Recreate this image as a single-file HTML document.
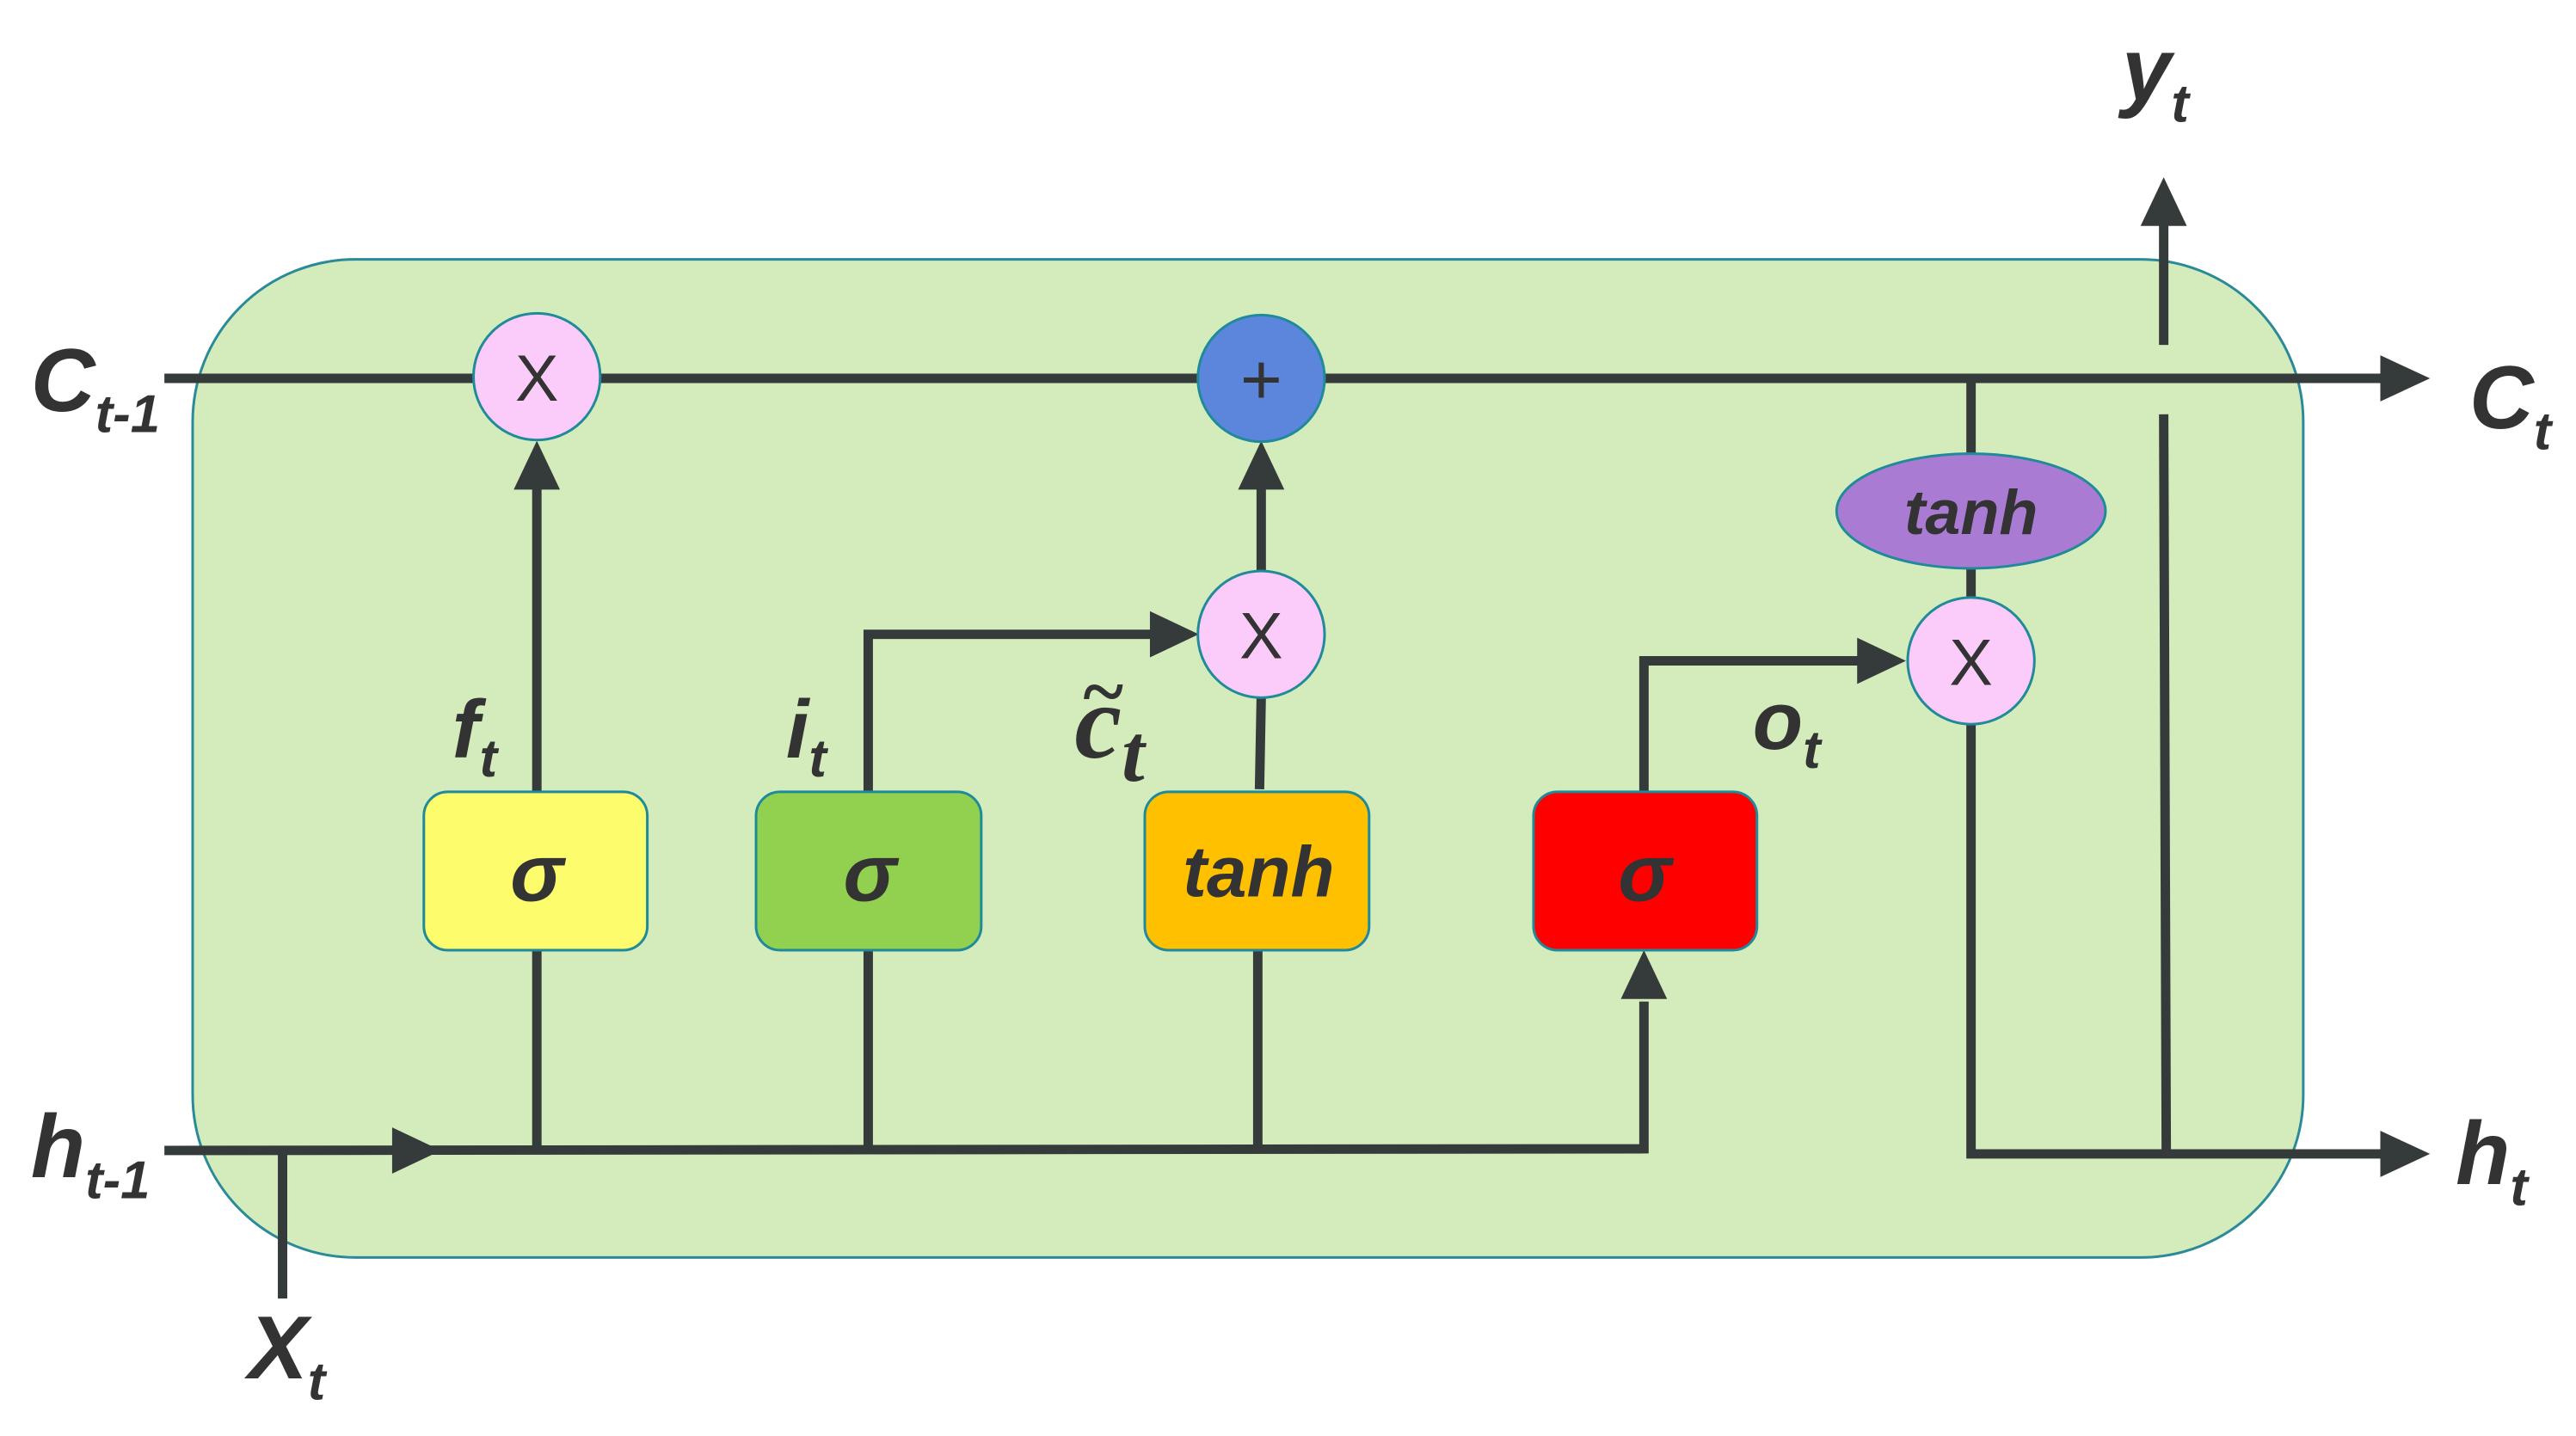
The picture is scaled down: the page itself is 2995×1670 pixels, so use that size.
<!DOCTYPE html>
<html><head><meta charset="utf-8"><style>html,body{margin:0;padding:0;background:#fff}svg{display:block}
text{font-family:"Liberation Sans",sans-serif;font-weight:bold;font-style:italic;fill:#333}</style></head>
<body>
<svg width="2995" height="1670" viewBox="0 0 2995 1670" xmlns="http://www.w3.org/2000/svg">
<g transform="scale(0.9955)">
<rect x="225" y="303" width="2465" height="1166" rx="190" ry="190" fill="#d4ebbb" stroke="#2a8a9a" stroke-width="3"/>
<g stroke="#353a3a" stroke-width="11" fill="none" stroke-linecap="butt">
<line x1="192" y1="442" x2="2785" y2="442"/>
<polyline points="192,1344 1920,1342 1920,1170"/>
<line x1="330" y1="1344" x2="330" y2="1517"/>
<line x1="627" y1="1344" x2="627" y2="1110"/>
<line x1="627" y1="927" x2="627" y2="570"/>
<line x1="1014" y1="1344" x2="1014" y2="1110"/>
<polyline points="1014,927 1014,741 1345,741"/>
<line x1="1469" y1="1344" x2="1469" y2="1105"/>
<line x1="1471" y1="922" x2="1473" y2="814"/>
<line x1="1473" y1="668" x2="1473" y2="570"/>
<polyline points="1920,927 1920,772 2172,772"/>
<line x1="2302" y1="699" x2="2302" y2="664"/>
<line x1="2302" y1="530" x2="2302" y2="442"/>
<polyline points="2302,845 2302,1348 2785,1348"/>
<line x1="2530" y1="1348" x2="2527" y2="484"/>
<line x1="2527" y1="403" x2="2527" y2="260"/>
</g>
<g fill="#353a3a">
<polygon points="2838,442 2780,415 2780,469"/>
<polygon points="2838,1348 2780,1321 2780,1375"/>
<polygon points="515,1344 458,1317 458,1371"/>
<polygon points="627,515 600,572 654,572"/>
<polygon points="1473,515 1446,572 1500,572"/>
<polygon points="1400,741 1343,714 1343,768"/>
<polygon points="2226,772 2169,745 2169,799"/>
<polygon points="1920,1110 1893,1167 1947,1167"/>
<polygon points="2527,207 2500,264 2554,264"/>
</g>
<g stroke="#1f8a9a" stroke-width="3">
<circle cx="627" cy="440" r="74" fill="#fbcbf9"/>
<circle cx="1473" cy="442" r="74" fill="#5b86dc"/>
<circle cx="1473" cy="741" r="74" fill="#fbcbf9"/>
<circle cx="2302" cy="772" r="74" fill="#fbcbf9"/>
<ellipse cx="2302" cy="597" rx="157" ry="67" fill="#a97bd3"/>
<rect x="495" y="925" width="261" height="185" rx="28" fill="#fcfc6c"/>
<rect x="883" y="925" width="263" height="185" rx="28" fill="#92d050"/>
<rect x="1337" y="925" width="262" height="185" rx="28" fill="#ffc000"/>
<rect x="1791" y="925" width="261" height="185" rx="28" fill="#ff0000"/>
</g>
<g text-anchor="middle">
<text x="627" y="468" font-size="76" style="font-style:normal;font-weight:normal">X</text>
<text x="1473" y="769" font-size="76" style="font-style:normal;font-weight:normal">X</text>
<text x="2302" y="800" font-size="76" style="font-style:normal;font-weight:normal">X</text>
<text x="1473" y="472" style="font-style:normal;font-weight:normal" font-size="84">+</text>
</g>
<g text-anchor="middle">
<text x="627" y="1052" font-size="94">σ</text>
<text x="1016" y="1052" font-size="94">σ</text>
<text x="1921" y="1052" font-size="94">σ</text>
<text x="1470" y="1047" font-size="84">tanh</text>
<text x="2302" y="624" font-size="74">tanh</text>
</g>
<text x="36" y="480" font-size="104">C<tspan font-size="62" dy="25">t-1</tspan></text>
<text x="36" y="1375" font-size="104">h<tspan font-size="62" dy="25">t-1</tspan></text>
<text x="290" y="1610" font-size="104">X<tspan font-size="62" dy="25">t</tspan></text>
<text x="2478" y="117" font-size="104">y<tspan font-size="62" dy="25">t</tspan></text>
<text x="2884" y="500" font-size="104">C<tspan font-size="62" dy="25">t</tspan></text>
<text x="2868" y="1383" font-size="104">h<tspan font-size="62" dy="25">t</tspan></text>
<text x="528" y="885" font-size="96">f<tspan font-size="62" dy="22">t</tspan></text>
<text x="918" y="885" font-size="96">i<tspan font-size="62" dy="22">t</tspan></text>
<text x="2047" y="875" font-size="96">o<tspan font-size="62" dy="22">t</tspan></text>
<text x="1255" y="885" font-size="124" style="font-family:'Liberation Serif',serif">c<tspan font-size="96" dy="27">t</tspan></text>
<text x="1262" y="838" font-size="90" style="font-family:'Liberation Serif',serif">~</text>
</g>
</svg>
</body></html>
